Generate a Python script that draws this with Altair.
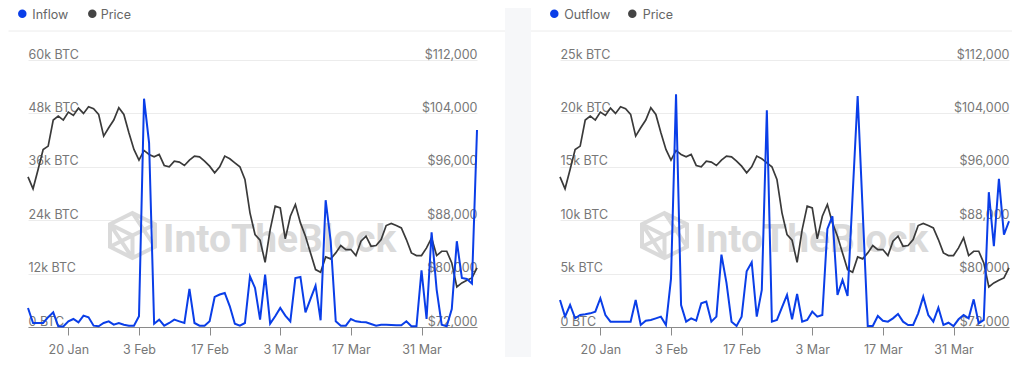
import altair as alt
import pandas as pd

# ---------------- data ----------------
start_date = "2025-01-12"
n_days = 90

price = [94500, 92700, 95600, 98600, 99100, 103000, 103600, 103000, 104200, 103700,
         104800, 104000, 105000, 104700, 103850, 100600, 101850, 103000, 104850, 103850,
         101100, 98600, 97000, 98450, 97850, 97500, 97850, 96200, 96000, 96850,
         96700, 96200, 97000, 97600, 97500, 96850, 96100, 95100, 96000, 97600,
         97200, 96600, 96000, 94100, 89100, 85850, 85000, 81700, 86600, 90100,
         89850, 85200, 88600, 90350, 87600, 85600, 83100, 80600, 80200, 82500,
         82200, 83100, 84200, 83600, 83600, 82700, 84850, 85600, 84100, 84200,
         85100, 87200, 87500, 87200, 86850, 85100, 83100, 82700, 82700, 83850,
         85350, 82700, 83350, 83350, 81600, 78000, 78600, 79000, 79350, 80850]

inflow = [4275, 900, 900, 900, 2200, 3300, 150, 100, 1275, 1800,
          1050, 2550, 2175, 300, 150, 900, 1275, 525, 900, 525,
          300, 300, 2400, 51300, 41400, 750, 1650, 300, 900, 1650,
          1275, 900, 8550, 900, 300, 300, 1275, 6750, 7300, 7650,
          4650, 750, 300, 900, 11400, 8775, 1650, 11775, 750, 2400,
          4275, 2550, 1275, 11000, 11250, 3300, 6300, 9300, 1500, 28500,
          19275, 1275, 300, 300, 1800, 1275, 1125, 1050, 675, 300,
          525, 525, 450, 375, 375, 1275, 150, 150, 12750, 1800,
          21300, 8400, 525, 150, 4050, 19275, 11025, 10800, 9750, 44250]

outflow = [2530, 970, 2060, 810, 1120, 1190, 1280, 1440, 2690, 1125,
           500, 500, 500, 500, 500, 2530, 190, 590, 660, 810,
           970, 190, 4500, 21780, 2060, 500, 810, 590, 2220, 2375,
           500, 970, 6780, 4125, 500, 90, 970, 5220, 6060, 970,
           3470, 20300, 500, 660, 1840, 3000, 720, 3090, 500, 660,
           1440, 970, 1125, 9190, 10375, 3000, 4400, 2900, 12340, 21625,
           10840, 90, 90, 1030, 590, 500, 810, 1220, 500, 190,
           190, 1280, 2840, 1125, 500, 1810, 190, 400, 90, 720,
           1125, 810, 2590, 340, 660, 12625, 7560, 13875, 8650, 9900]

price_ticks = [72000, 80000, 88000, 96000, 104000, 112000]
inflow_ticks = [0, 12000, 24000, 36000, 48000, 60000]
outflow_ticks = [0, 5000, 10000, 15000, 20000, 25000]
x_tick_dates = [(1, 20), (2, 3), (2, 17), (3, 3), (3, 17), (3, 31)]

# ---------------- styling ----------------
BLUE = "#0a3ee8"
DARK = "#3a3a3a"
LABEL = "#777777"
WM = "#dadada"
FONT = "Inter"
W, H = 449, 267

dates = pd.date_range(start_date, periods=n_days, freq="D")
one = pd.DataFrame({"k": [0]})

x_domain = [alt.DateTime(year=2025, month=1, date=12),
            alt.DateTime(year=2025, month=4, date=11)]
x_values = [alt.DateTime(year=2025, month=m, date=d) for m, d in x_tick_dates]

LOGO = ("M0,-1L1,-0.5L1,0.5L0,1L-1,0.5L-1,-0.5Z"
        "M0,0L0,1M0,0L1,-0.5M0,0L-1,-0.5"
        "M-1,-0.5L0,1M1,-0.5L-1,0.5M0,-1L1,0.5")


def panel(flow_vals, flow_name, flow_ticks, legend_price_dot, legend_price_text,
          strip, div_x1, div_x2):
    df = pd.DataFrame({"date": dates, "flow": flow_vals, "price": price})

    x = alt.X("date:T",
              scale=alt.Scale(domain=x_domain, nice=False),
              axis=alt.Axis(values=x_values, format="%-d %b", title=None,
                            grid=False, domain=True, domainColor="#8a8a8a",
                            ticks=True, tickSize=8, tickColor="#8a8a8a",
                            labelPadding=8, labelColor=LABEL, labelFontSize=12.5,
                            labelFont=FONT, labelFlush=False))

    price_line = alt.Chart(df).mark_line(color=DARK, strokeWidth=1.7).encode(
        x=x,
        y=alt.Y("price:Q",
                scale=alt.Scale(domain=[price_ticks[0], price_ticks[-1]], nice=False, zero=False),
                axis=alt.Axis(orient="right", values=price_ticks, format="$,.0f",
                              title=None, grid=False, domain=False, ticks=False,
                              tickSize=0, labelPadding=0, labelAlign="right",
                              labelBaseline="alphabetic", labelOffset=-2,
                              labelColor=LABEL, labelFontSize=12.5, labelFont=FONT)))

    flow_line = alt.Chart(df).mark_line(color=BLUE, strokeWidth=2).encode(
        x=x,
        y=alt.Y("flow:Q",
                scale=alt.Scale(domain=[flow_ticks[0], flow_ticks[-1]], nice=False),
                axis=alt.Axis(orient="left", values=flow_ticks,
                              labelExpr="datum.value == 0 ? '0 BTC' : (datum.value / 1000) + 'k BTC'",
                              title=None, grid=True, gridColor="#ececec",
                              domain=False, ticks=False, tickSize=0,
                              labelPadding=0, labelAlign="left",
                              labelBaseline="alphabetic", labelOffset=-2,
                              labelColor=LABEL, labelFontSize=12.5, labelFont=FONT)))

    layers = []
    if strip:
        layers.append(alt.Chart(one).mark_rect(color="#f6f7f9").encode(
            x=alt.value(477), x2=alt.value(503), y=alt.value(-52), y2=alt.value(297)))
    layers.append(alt.Chart(one).mark_rule(color="#ececec", strokeWidth=1).encode(
        x=alt.value(div_x1), x2=alt.value(div_x2), y=alt.value(-29)))
    # legend
    layers.append(alt.Chart(one).mark_circle(color=BLUE, size=72, opacity=1).encode(
        x=alt.value(-5.7), y=alt.value(-46.2)))
    layers.append(alt.Chart(one).mark_text(align="left", baseline="alphabetic", fontSize=12.5,
                                           font=FONT, color="#666666").encode(
        x=alt.value(4.3), y=alt.value(-41.5), text=alt.value(flow_name)))
    layers.append(alt.Chart(one).mark_circle(color="#444444", size=72, opacity=1).encode(
        x=alt.value(legend_price_dot), y=alt.value(-46.2)))
    layers.append(alt.Chart(one).mark_text(align="left", baseline="alphabetic", fontSize=12.5,
                                           font=FONT, color="#666666").encode(
        x=alt.value(legend_price_text), y=alt.value(-41.5), text=alt.value("Price")))
    # watermark
    layers.append(alt.Chart(one).mark_point(shape=LOGO, size=2025, filled=False,
                                            stroke=WM, strokeWidth=4, opacity=1).encode(
        x=alt.value(104.5), y=alt.value(175.5)))
    layers.append(alt.Chart(one).mark_text(align="left", baseline="alphabetic", fontSize=39,
                                           font="Roboto", fontWeight="bold", color=WM).encode(
        x=alt.value(135), y=alt.value(192), text=alt.value("IntoTheBlock")))
    layers.append(price_line)
    layers.append(flow_line)

    return alt.layer(*layers).resolve_scale(y="independent").properties(width=W, height=H)


left = panel(inflow, "Inflow", inflow_ticks, 64.3, 72.7, True, -19.5, 477)
right = panel(outflow, "Outflow", outflow_ticks, 72.3, 82.7, False, -29, 452)

chart = alt.hconcat(left, right, spacing=83, bounds="flush").properties(
    padding=0, background="white"
).configure_view(stroke=None)

chart.save("out.html", embed_options={"renderer": "svg", "actions": False})
